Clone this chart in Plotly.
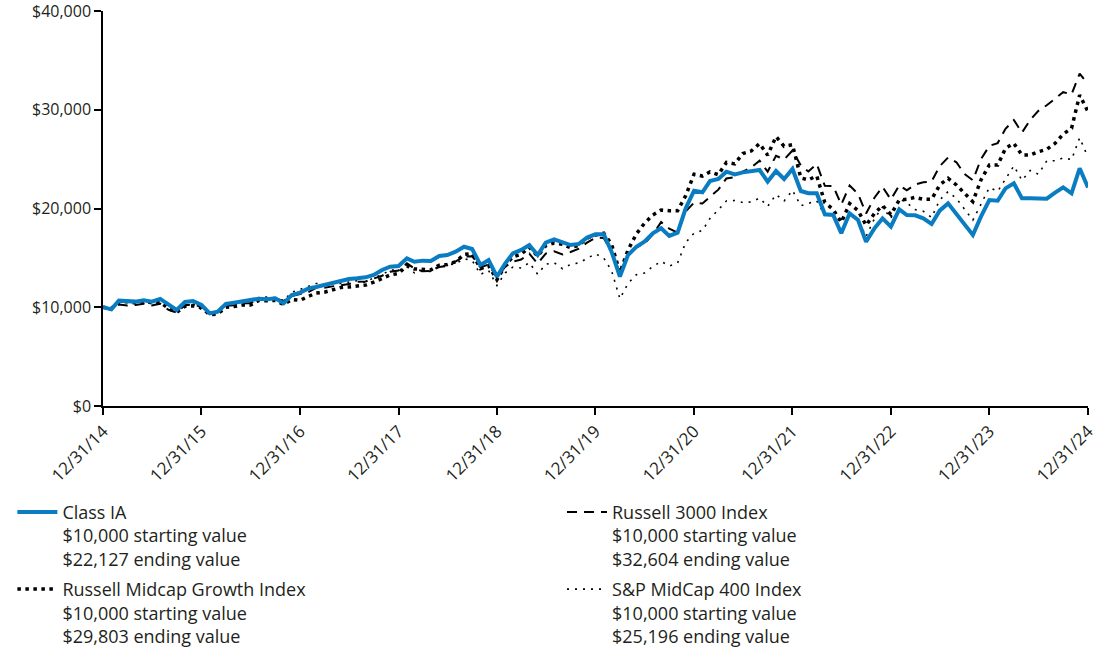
import pandas as pd
import plotly.graph_objects as go

dates = pd.date_range("2014-12-31", "2024-12-31", freq="ME")

class_ia = [10000,
    9790, 10670, 10630, 10570, 10700, 10570, 10840, 10230, 9720, 10530, 10630, 10230,
    9380, 9550, 10330, 10460, 10570, 10670, 10870, 10800, 10900, 10400, 11240, 11480,
    11900, 12050, 12250, 12420, 12660, 12860, 12930, 13030, 13270, 13770, 14110, 14180,
    14950, 14610, 14720, 14680, 15190, 15290, 15630, 16130, 15900, 14280, 14780, 13100,
    14450, 15460, 15800, 16300, 15290, 16540, 16880, 16540, 16300, 16410, 17050, 17380,
    17380, 15630, 13100, 15290, 16130, 16640, 17490, 17990, 17220, 17550, 20020, 21800,
    21640, 22780, 22990, 23730, 23460, 23660, 23730, 23900, 22720, 23800, 22990, 24000,
    21770, 21540, 21540, 19410, 19340, 17490, 19510, 18840, 16640, 17990, 19000, 18160,
    19910, 19340, 19310, 19000, 18430, 19780, 20520, 19440, 18330, 17320, 19170, 20860,
    20790, 22040, 22550, 21030, 21030, 21030, 20990, 21600, 22140, 21540, 24070, 22127]

russell_3000 = [10000,
    9720, 10284, 10181, 10232, 10365, 10189, 10362, 9740, 9458, 10205, 10266, 10048,
    9487, 9485, 10149, 10210, 10394, 10415, 10831, 10864, 10886, 10646, 11125, 11328,
    11543, 11970, 11982, 12114, 12235, 12345, 12580, 12605, 12907, 13191, 13587, 13722,
    14450, 13916, 13638, 13692, 14075, 14174, 14642, 15140, 15170, 14047, 14328, 13003,
    14121, 14615, 14834, 15427, 14425, 15435, 15666, 15353, 15599, 15942, 16548, 17036,
    17019, 15623, 13467, 15244, 16068, 16437, 17374, 18625, 17954, 17559, 19701, 20595,
    20513, 21149, 21910, 23049, 23164, 23743, 24147, 24847, 23729, 25343, 24963, 25878,
    24351, 23742, 24502, 22297, 22274, 20403, 22321, 21495, 19496, 21095, 22192, 20907,
    22350, 21836, 22425, 22650, 22740, 24286, 25160, 24682, 23497, 22863, 24989, 26335,
    26625, 28063, 28961, 27686, 28987, 29886, 30454, 31124, 31778, 31555, 33669, 32604]

russell_midcap_growth = [10000,
    9890, 10520, 10580, 10440, 10620, 10450, 10520, 9860, 9470, 10100, 10150, 9980,
    9240, 9310, 10000, 10070, 10230, 10220, 10680, 10650, 10690, 10280, 10790, 10711,
    11060, 11440, 11520, 11760, 12000, 12060, 12160, 12240, 12540, 12870, 13270, 13418,
    14210, 13883, 13800, 13786, 14255, 14326, 14613, 15343, 15435, 13907, 14213, 12780,
    14250, 15105, 15377, 16069, 15169, 16231, 16507, 16375, 16031, 16271, 17003, 17313,
    17500, 16400, 13500, 15800, 17420, 18500, 19340, 19850, 19780, 19780, 21300, 23475,
    23287, 23706, 23422, 24663, 24515, 25570, 25826, 26574, 25405, 27285, 26303, 26463,
    23100, 22900, 23300, 20600, 19900, 18600, 20500, 19800, 18300, 19500, 20300, 19392,
    20860, 20930, 21130, 20930, 20930, 22380, 23060, 22380, 21540, 20690, 22890, 24409,
    24400, 26090, 26600, 25420, 25420, 25750, 25990, 26600, 27540, 28120, 31490, 29803]

sp_midcap_400 = [10000,
    9890, 10444, 10611, 10484, 10652, 10513, 10492, 9967, 9648, 10198, 10320, 9782,
    9245, 9375, 10143, 10265, 10501, 10543, 10986, 11041, 10975, 10667, 11521, 11811,
    12094, 12409, 12359, 12458, 12408, 12582, 12695, 12517, 13005, 13291, 13783, 13729,
    14113, 13492, 13654, 13627, 14172, 14243, 14428, 14904, 14740, 13325, 13725, 12208,
    13490, 14057, 13972, 14517, 13341, 14355, 14513, 13903, 14334, 14492, 14912, 15407,
    14991, 13702, 10867, 12410, 13303, 13476, 14123, 14646, 14177, 14489, 16561, 17511,
    17774, 18982, 19874, 20768, 20810, 20602, 20664, 21057, 20215, 21408, 20766, 21847,
    20274, 20497, 20784, 19308, 19482, 17612, 19532, 18907, 17168, 18970, 20146, 18994,
    21007, 20587, 19887, 19728, 19097, 20854, 21709, 21014, 19900, 18825, 20425, 22116,
    21740, 23020, 24310, 22850, 23860, 23470, 24830, 24830, 25130, 24950, 27150, 25196]

series_names = [
    "Class IA<br>$10,000 starting value<br>$22,127 ending value",
    "Russell 3000 Index<br>$10,000 starting value<br>$32,604 ending value",
    "Russell Midcap Growth Index<br>$10,000 starting value<br>$29,803 ending value",
    "S&P MidCap 400 Index<br>$10,000 starting value<br>$25,196 ending value",
]

tick_dates = ["2014-12-31", "2015-12-31", "2016-12-31", "2017-12-31", "2018-12-31",
              "2019-12-31", "2020-12-31", "2021-12-31", "2022-12-31", "2023-12-31",
              "2024-12-31"]
tick_labels = ["12/31/14", "12/31/15", "12/31/16", "12/31/17", "12/31/18", "12/31/19",
               "12/31/20", "12/31/21", "12/31/22", "12/31/23", "12/31/24"]
y_ticks = [0, 10000, 20000, 30000, 40000]
y_tick_labels = ["$0", "$10,000", "$20,000", "$30,000", "$40,000"]

FONT = "Open Sans, Noto Sans, sans-serif"
TXT = "#231f20"

fig = go.Figure()
fig.add_trace(go.Scatter(x=dates, y=sp_midcap_400, mode="lines", name=series_names[3],
                         legend="legend2", legendrank=2, legendgroup="sp",
                         line=dict(color="#000000", width=1.6, dash="2px,6px")))
fig.add_trace(go.Scatter(x=dates, y=russell_3000, mode="lines", name=series_names[1],
                         legend="legend2", legendrank=1, legendgroup="r3",
                         line=dict(color="#000000", width=2, dash="10px,7px")))
fig.add_trace(go.Scatter(x=dates, y=russell_midcap_growth, mode="lines", name=series_names[2],
                         legend="legend", legendrank=2, legendgroup="rmg",
                         line=dict(color="#000000", width=3.5, dash="3.5px,4.5px")))
fig.add_trace(go.Scatter(x=dates, y=class_ia, mode="lines", name=series_names[0],
                         legend="legend", legendrank=1, legendgroup="ia",
                         line=dict(color="#0a7dc2", width=4)))

legend_common = dict(
    orientation="v",
    yanchor="top",
    valign="top",
    traceorder="grouped",
    tracegroupgap=4,
    font=dict(family=FONT, size=18, color=TXT),
    bgcolor="rgba(0,0,0,0)",
    itemwidth=40,
)

fig.update_layout(
    width=1100, height=653,
    margin=dict(l=103, r=12, t=11, b=247, autoexpand=False),
    paper_bgcolor="white", plot_bgcolor="white",
    font=dict(family=FONT, size=16, color=TXT),
    showlegend=True,
    legend=dict(x=-0.092, xanchor="left", y=-0.222, **legend_common),
    legend2=dict(x=0.466, xanchor="left", y=-0.222, **legend_common),
    xaxis=dict(
        type="date",
        range=[tick_dates[0], tick_dates[-1]],
        tickvals=tick_dates, ticktext=tick_labels,
        tickangle=-45,
        showgrid=False, zeroline=False,
        showline=True, linecolor="#000000", linewidth=1.5,
        ticks="outside", ticklen=7, tickwidth=1.5, tickcolor="#000000",
        tickfont=dict(family=FONT, size=17, color=TXT),
        ticklabeloverflow="allow",
    ),
    yaxis=dict(
        range=[0, 40000],
        tickvals=y_ticks, ticktext=y_tick_labels,
        showgrid=False, zeroline=False,
        showline=True, linecolor="#000000", linewidth=1.5,
        ticks="outside", ticklen=7, tickwidth=1.5, tickcolor="#000000",
        tickfont=dict(family=FONT, size=16, color=TXT),
        ticklabeloverflow="allow",
    ),
)

fig.write_html("out.html",
               config={"displayModeBar": False},
               post_script="document.body.style.margin='0';document.body.style.padding='0';")
